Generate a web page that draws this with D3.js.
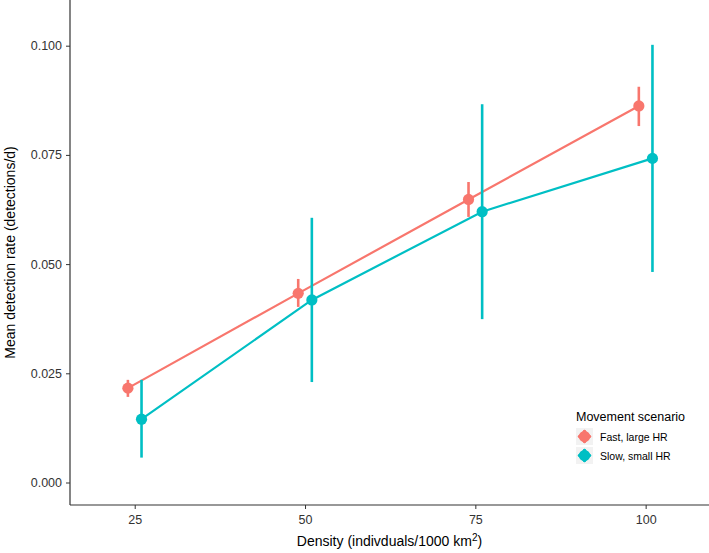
<!DOCTYPE html>
<html>
<head>
<meta charset="utf-8">
<script src="https://cdn.jsdelivr.net/npm/d3@7"></script>
<style>
  html, body { margin: 0; padding: 0; background: #fff; }
  svg { display: block; font-family: "Liberation Sans", Arial, Helvetica, sans-serif; }
</style>
</head>
<body>
<svg id="chart" width="709" height="553"></svg>
<script>
// ---- data ----
const densities = [25, 50, 75, 100];
const seriesNames = ["Fast, large HR", "Slow, small HR"];
const seriesColors = ["#F8766D", "#00BFC4"];
const dodgeOffsets = [-1, 1];
const fastMean = [0.0216, 0.0433, 0.0648, 0.0862];
const fastLow  = [0.0196, 0.0402, 0.0608, 0.0816];
const fastHigh = [0.0235, 0.0466, 0.0688, 0.0906];
const slowMean = [0.0145, 0.0418, 0.0620, 0.0742];
const slowLow  = [0.0057, 0.0230, 0.0374, 0.0482];
const slowHigh = [0.0235, 0.0606, 0.0866, 0.1002];
const xTicks = [25, 50, 75, 100];
const yTicks = [0.000, 0.025, 0.050, 0.075, 0.100];

const series = [
  { name: seriesNames[0], color: seriesColors[0], off: dodgeOffsets[0], mean: fastMean, low: fastLow, high: fastHigh },
  { name: seriesNames[1], color: seriesColors[1], off: dodgeOffsets[1], mean: slowMean, low: slowLow, high: slowHigh }
];

const svg = d3.select("#chart");
const pLeft = 70, pRight = 709, pTop = 0, pBottom = 505;

const x = d3.scaleLinear().domain([15.5, 109.3]).range([pLeft, pRight]);
const y = d3.scaleLinear().domain([-0.00515, 0.11046]).range([pBottom, pTop]);

// axes
const xAxis = d3.axisBottom(x).tickValues(xTicks).tickSize(4).tickPadding(6).tickFormat(d3.format("d"));
const yAxis = d3.axisLeft(y).tickValues(yTicks).tickSize(4).tickPadding(4).tickFormat(d3.format(".3f"));

const gx = svg.append("g").attr("transform", `translate(0,${pBottom})`).call(xAxis);
const gy = svg.append("g").attr("transform", `translate(${pLeft},0)`).call(yAxis);
[gx, gy].forEach(g => {
  g.select(".domain").remove();
  g.selectAll(".tick line").attr("stroke", "#333").attr("stroke-width", 1);
  g.selectAll(".tick text").attr("fill", "#333").style("font-size", "12.5px");
});
svg.append("line").attr("x1", pLeft).attr("x2", pRight).attr("y1", pBottom).attr("y2", pBottom)
  .attr("stroke", "#333").attr("stroke-width", 1.2);
svg.append("line").attr("x1", pLeft).attr("x2", pLeft).attr("y1", pTop).attr("y2", pBottom)
  .attr("stroke", "#333").attr("stroke-width", 1.2);

// axis titles
const xt = svg.append("text").attr("x", (pLeft + pRight) / 2).attr("y", 546)
  .attr("text-anchor", "middle").attr("fill", "#000").style("font-size", "14px");
xt.append("tspan").text("Density (indivduals/1000 km");
xt.append("tspan").text("2").attr("dy", -5).style("font-size", "10px");
xt.append("tspan").text(")").attr("dy", 5);

svg.append("text")
  .attr("transform", `translate(15,${(pTop + pBottom) / 2}) rotate(-90)`)
  .attr("text-anchor", "middle").attr("fill", "#000").style("font-size", "14px")
  .text("Mean detection rate (detections/d)");

// marks
series.forEach(s => {
  const pts = densities.map((d, i) => ({ xv: d + s.off, m: s.mean[i], lo: s.low[i], hi: s.high[i] }));
  svg.append("path").datum(pts)
    .attr("fill", "none").attr("stroke", s.color).attr("stroke-width", 2.2)
    .attr("d", d3.line().x(p => x(p.xv)).y(p => y(p.m)));
  svg.append("g").selectAll("line").data(pts).join("line")
    .attr("x1", p => x(p.xv)).attr("x2", p => x(p.xv))
    .attr("y1", p => y(p.lo)).attr("y2", p => y(p.hi))
    .attr("stroke", s.color).attr("stroke-width", 2.6);
  svg.append("g").selectAll("circle").data(pts).join("circle")
    .attr("cx", p => x(p.xv)).attr("cy", p => y(p.m)).attr("r", 5.6)
    .attr("fill", s.color);
});

// legend
const lg = svg.append("g").attr("transform", "translate(576,0)");
lg.append("text").attr("x", 0).attr("y", 421).attr("fill", "#000").style("font-size", "12.5px")
  .text("Movement scenario");
series.forEach((s, i) => {
  const ky = 428 + i * 19;
  const g = lg.append("g").attr("transform", `translate(0,${ky})`);
  g.append("rect").attr("width", 17).attr("height", 17).attr("fill", "#f2f2f2");
  g.append("line").attr("x1", 2).attr("x2", 15).attr("y1", 8.5).attr("y2", 8.5)
    .attr("stroke", s.color).attr("stroke-width", 2.2);
  g.append("line").attr("x1", 8.5).attr("x2", 8.5).attr("y1", 2).attr("y2", 15)
    .attr("stroke", s.color).attr("stroke-width", 2.6);
  g.append("path").attr("d", "M8.5,1.5 L15.5,8.5 L8.5,15.5 L1.5,8.5 Z").attr("fill", s.color);
  g.append("circle").attr("cx", 8.5).attr("cy", 8.5).attr("r", 5.6).attr("fill", s.color);
  g.append("text").attr("x", 24).attr("y", 12.5).attr("fill", "#000").style("font-size", "10.5px")
    .text(s.name);
});
</script>
</body>
</html>
